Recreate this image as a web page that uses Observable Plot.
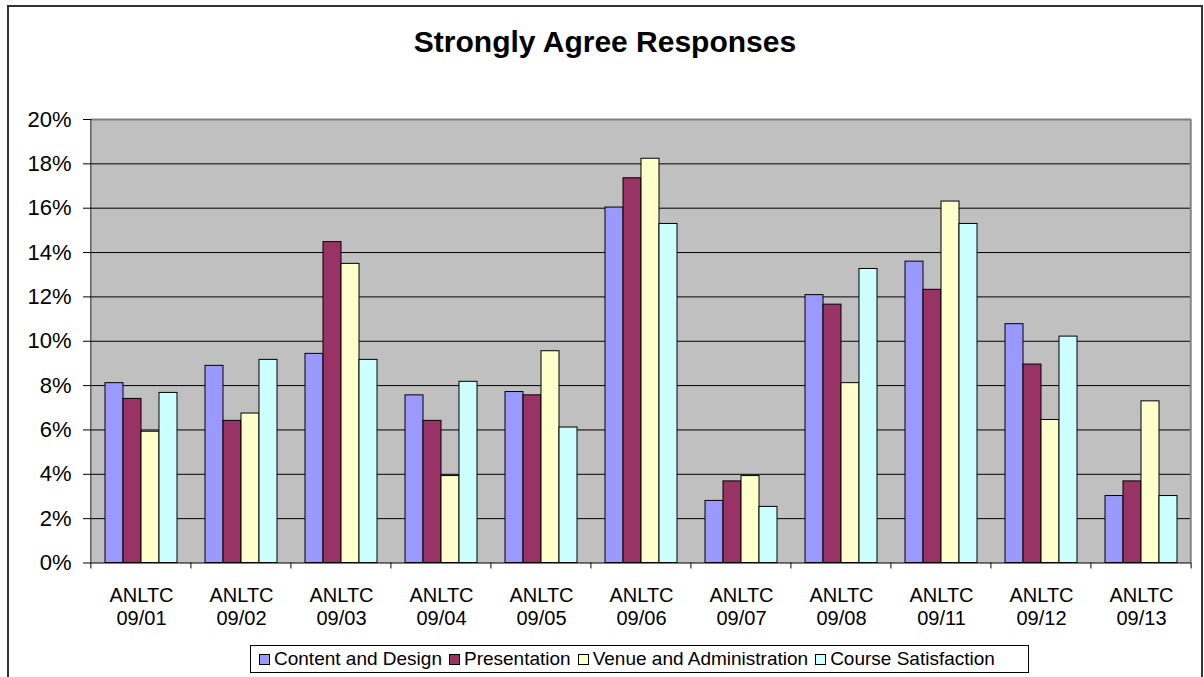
<!DOCTYPE html>
<html>
<head>
<meta charset="utf-8">
<script src="https://cdn.jsdelivr.net/npm/d3@7"></script>
<script src="https://cdn.jsdelivr.net/npm/@observablehq/plot@0.6"></script>
<style>
  html, body { margin: 0; padding: 0; background: #fff; overflow: hidden; }
  body { width: 1204px; height: 677px; position: relative; font-family: "Liberation Sans", Arial, sans-serif; }
  #outer { position: absolute; left: 7px; top: 5px; width: 1196px; height: 720px; border: 2px solid #333; box-sizing: border-box; pointer-events: none; }
  #title { height: 100px; box-sizing: border-box; padding-top: 27px; margin-left: 7px; width: 1196px; text-align: center; font-size: 30px; line-height: 30px; font-weight: bold; color: #000; }
  #chart svg { display: block; }
  #legend { position: absolute; left: 250px; top: 645px; width: 779px; height: 28px; box-sizing: border-box; border: 1px solid #000; display: flex; align-items: center; padding-left: 8px; font-size: 19px; color: #000; background: #fff; white-space: nowrap; }
  .item { display: flex; align-items: center; margin-right: 7px; }
  .sw { width: 9px; height: 9px; border: 1px solid #000; margin-right: 4px; }
</style>
</head>
<body>
<div id="outer"></div>
<div id="title">Strongly Agree Responses</div>
<div id="chart"></div>
<div id="legend"></div>
<script>
const categories = ["ANLTC 09/01", "ANLTC 09/02", "ANLTC 09/03", "ANLTC 09/04", "ANLTC 09/05", "ANLTC 09/06", "ANLTC 09/07", "ANLTC 09/08", "ANLTC 09/11", "ANLTC 09/12", "ANLTC 09/13"];
const seriesNames = ["Content and Design", "Presentation", "Venue and Administration", "Course Satisfaction"];
const seriesColors = ["#9999FF", "#993366", "#FFFFCC", "#CCFFFF"];
const contentDesign = [8.11, 8.89, 9.43, 7.56, 7.71, 16.03, 2.80, 12.08, 13.59, 10.77, 3.02];
const presentation = [7.40, 6.41, 14.47, 6.41, 7.56, 17.35, 3.68, 11.65, 12.32, 8.95, 3.68];
const venueAdmin = [5.92, 6.74, 13.49, 3.92, 9.55, 18.23, 3.92, 8.11, 16.30, 6.45, 7.29];
const courseSatisfaction = [7.67, 9.16, 9.16, 8.17, 6.11, 15.29, 2.53, 13.26, 15.29, 10.21, 3.02];
const yTicks = [0, 0.02, 0.04, 0.06, 0.08, 0.10, 0.12, 0.14, 0.16, 0.18, 0.20];

const seriesValues = [contentDesign, presentation, venueAdmin, courseSatisfaction];
const data = [];
categories.forEach((c, i) => {
  seriesNames.forEach((s, k) => {
    data.push({category: c, series: s, value: seriesValues[k][i] / 100});
  });
});

const width = 1204, marginLeft = 90, marginRight = 11.5;
const step = (width - marginLeft - marginRight) / categories.length;
const first = categories[0], last = categories[categories.length - 1];
const tickLen = -0.0027; // small extension below the zero axis for category ticks

const chart = Plot.plot({
  width,
  height: 540,
  marginTop: 19,
  marginBottom: 77.5,
  marginLeft,
  marginRight,
  style: {fontFamily: '"Liberation Sans", Arial, sans-serif', color: "#000", background: "#fff", overflow: "visible"},
  fx: {domain: categories, padding: 0, label: null, axis: null},
  x: {domain: seriesNames, paddingInner: 0, paddingOuter: 0.75, axis: null},
  y: {domain: [0, 0.2], label: null},
  color: {domain: seriesNames, range: seriesColors},
  marks: [
    Plot.frame({fill: "#C0C0C0", stroke: null, facet: "super"}),
    Plot.ruleY(yTicks.filter(t => t > 0 && t < 0.2), {stroke: "#000", strokeWidth: 1}),
    Plot.ruleY([0.2], {stroke: "#808080", strokeWidth: 2}),
    Plot.barY(data, {fx: "category", x: "series", y: "value", fill: "series", stroke: "#000", strokeWidth: 1}),
    Plot.ruleY([0], {stroke: "#000", strokeWidth: 1}),
    Plot.rect([first], {fx: d => d, y1: 0, y2: 0.2, fill: "#000", insetLeft: -0.6, insetRight: step - 0.6}),
    Plot.rect([last], {fx: d => d, y1: 0, y2: 0.2, fill: "#808080", insetLeft: step - 1.4, insetRight: -0.6}),
    Plot.rect(categories, {fx: d => d, y1: 0, y2: tickLen, fill: "#000", insetLeft: -0.6, insetRight: step - 0.6}),
    Plot.rect([last], {fx: d => d, y1: 0, y2: tickLen, fill: "#000", insetLeft: step - 0.6, insetRight: -0.6}),
    Plot.axisY({ticks: yTicks, tickFormat: d3.format(".0%"), tickSize: 8, tickPadding: 12, fontSize: 22, stroke: "#000", label: null}),
    Plot.text(categories, {fx: d => d, text: d => d.replace(" ", "\n"), frameAnchor: "bottom", lineAnchor: "top", dy: 22, fontSize: 20, lineHeight: 1.17, fill: "#000"})
  ]
});
document.getElementById("chart").appendChild(chart);

const legend = document.getElementById("legend");
seriesNames.forEach((s, k) => {
  const item = document.createElement("div");
  item.className = "item";
  const sw = document.createElement("div");
  sw.className = "sw";
  sw.style.background = seriesColors[k];
  const t = document.createElement("span");
  t.textContent = s;
  item.appendChild(sw);
  item.appendChild(t);
  legend.appendChild(item);
});
</script>
</body>
</html>
